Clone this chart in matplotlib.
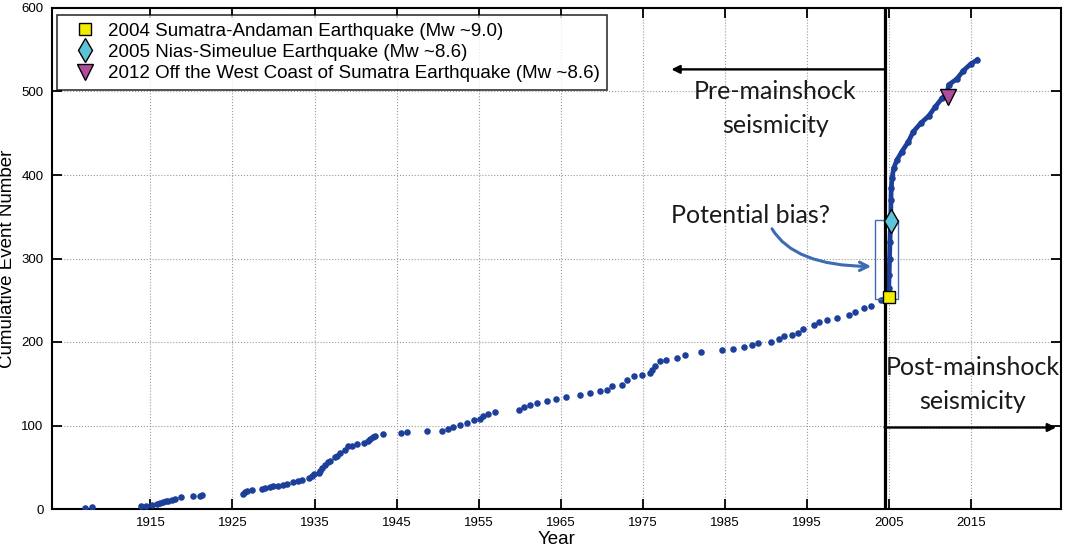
import matplotlib
matplotlib.use("Agg")
import matplotlib.pyplot as plt
from matplotlib.patches import FancyArrowPatch, Rectangle

# ---- data ----
pre_years = [1907.0, 1907.9, 1913.8, 1914.4, 1915.2, 1915.8, 1916.2, 1916.5, 1916.9, 1917.2,
             1917.6, 1918.0, 1918.7, 1920.2, 1921.1, 1921.3, 1926.3, 1926.5, 1926.8, 1927.4,
             1928.6, 1929.0, 1929.6, 1930.0, 1930.6, 1931.2, 1931.6, 1932.4, 1933.0, 1933.5,
             1934.3, 1934.7, 1934.9, 1935.5, 1935.7, 1935.9, 1936.3, 1936.6, 1936.9, 1937.5,
             1937.8, 1938.1, 1938.7, 1939.1, 1939.6, 1940.2, 1941.0, 1941.5, 1941.8, 1942.1,
             1942.4, 1943.4, 1945.5, 1946.3, 1948.7, 1950.6, 1951.3, 1951.9, 1952.7, 1953.6,
             1954.4, 1955.2, 1955.6, 1956.2, 1957.0, 1959.9, 1960.5, 1961.3, 1962.1, 1963.3,
             1964.4, 1965.6, 1967.4, 1968.6, 1969.8, 1970.7, 1971.3, 1972.5, 1973.1, 1973.9,
             1974.9, 1975.9, 1976.2, 1976.5, 1977.1, 1977.9, 1979.2, 1980.2, 1982.1, 1984.7,
             1986.0, 1987.3, 1988.3, 1989.1, 1990.6, 1991.6, 1992.2, 1993.2, 1994.0, 1994.6,
             1995.9, 1996.5, 1997.5, 1998.7, 2000.1, 2000.9, 2002.0, 2002.8, 2004.0, 2004.6]
pre_counts = [1, 2, 3, 4, 5, 6, 7, 8, 9, 10,
              11, 12, 14, 15, 16, 17, 18, 20, 21, 23,
              24, 25, 26, 27, 28, 29, 30, 32, 34, 35,
              37, 40, 42, 43, 46, 49, 53, 56, 58, 62,
              64, 67, 71, 75, 76, 78, 79, 81, 84, 86,
              88, 90, 91, 92, 93, 94, 96, 98, 101, 103,
              106, 108, 111, 114, 116, 119, 122, 124, 127, 129,
              132, 134, 137, 139, 141, 143, 147, 149, 155, 159,
              160, 163, 167, 171, 177, 179, 181, 185, 188, 191,
              192, 194, 197, 199, 200, 204, 207, 208, 211, 216,
              220, 224, 226, 229, 232, 236, 241, 243, 250, 252]

post_years = [2004.98, 2005.0, 2005.05, 2005.1, 2005.15, 2005.24, 2005.27, 2005.3, 2005.4,
              2005.6, 2006.0, 2006.6, 2007.4, 2008.0, 2008.9, 2009.9, 2010.7, 2011.5,
              2012.1, 2012.3, 2013.3, 2014.1, 2015.0, 2015.8]
post_counts = [254, 265, 280, 300, 320, 345, 370, 384, 396,
               408, 418, 428, 440, 452, 462, 471, 482, 492,
               496, 508, 515, 525, 533, 538]

event_labels = ["2004 Sumatra-Andaman Earthquake (Mw ~9.0)",
                "2005 Nias-Simeulue Earthquake (Mw ~8.6)",
                "2012 Off the West Coast of Sumatra Earthquake (Mw ~8.6)"]
event_years = [2004.98, 2005.24, 2012.28]
event_counts = [254, 345, 494]

x_ticks = [1915, 1925, 1935, 1945, 1955, 1965, 1975, 1985, 1995, 2005, 2015]
y_ticks = [0, 100, 200, 300, 400, 500, 600]

mainshock_year = 2004.5

# ---- figure ----
plt.rcParams['font.family'] = ['Liberation Sans', 'DejaVu Sans']
fig = plt.figure(figsize=(10.65, 5.51), dpi=100)
ax = fig.add_axes([52 / 1065, 1 - 509 / 551, (1061 - 52) / 1065, (509 - 8) / 551])

dot_color = '#1c3f9a'
ax.plot(pre_years, pre_counts, 'o', color=dot_color, markersize=3.7, zorder=3)
ax.plot(post_years, post_counts, '-o', color=dot_color, markersize=3.7, linewidth=3.4,
        solid_joinstyle='round', zorder=3)

# mainshock divider & arrows
ax.axvline(mainshock_year, color='black', linewidth=2.3, zorder=4)
ax.annotate('', xy=(1978.5, 526.5), xytext=(mainshock_year, 526.5),
            arrowprops=dict(arrowstyle='-|>', color='black', lw=1.7,
                            mutation_scale=12, shrinkA=0, shrinkB=0), zorder=4)
ax.annotate('', xy=(2025.4, 97.6), xytext=(mainshock_year, 97.6),
            arrowprops=dict(arrowstyle='-|>', color='black', lw=1.7,
                            mutation_scale=12, shrinkA=0, shrinkB=0), zorder=4)

# potential bias box and curved arrow
bias_color = '#3d6bb4'
ax.add_patch(Rectangle((2003.3, 252), 2.8, 94, fill=False, edgecolor=bias_color,
                       linewidth=1.0, zorder=5))
arr = FancyArrowPatch((1990.6, 338.5), (2003.2, 290.5),
                      connectionstyle='angle3,angleA=-62,angleB=0', arrowstyle='->',
                      mutation_scale=15, color=bias_color, lw=2.2, zorder=5)
ax.add_patch(arr)

# event markers
h1, = ax.plot(event_years[0], event_counts[0], 's', markersize=8.5,
              markerfacecolor='#f2ec00', markeredgecolor='black', markeredgewidth=1.0,
              linestyle='none', zorder=6, label=event_labels[0])
h2, = ax.plot(event_years[1], event_counts[1], 'd', markersize=12,
              markerfacecolor='#5cc4d6', markeredgecolor='black', markeredgewidth=1.0,
              linestyle='none', zorder=6, label=event_labels[1])
h3, = ax.plot(event_years[2], event_counts[2], 'v', markersize=11,
              markerfacecolor='#b04c9e', markeredgecolor='black', markeredgewidth=1.0,
              linestyle='none', zorder=6, label=event_labels[2])

# annotation texts
tf = ['Lato', 'DejaVu Sans']
ax.text(1991.2, 480, 'Pre-mainshock\nseismicity', ha='center', va='center',
        fontsize=18, family=tf, color='#1a1a1a', linespacing=1.6, zorder=5)
ax.text(1988.1, 352, 'Potential bias?', ha='center', va='center',
        fontsize=18, family=tf, color='#1a1a1a', zorder=5)
ax.text(2015.2, 149, 'Post-mainshock\nseismicity', ha='center', va='center',
        fontsize=18, family=tf, color='#1a1a1a', linespacing=1.6, zorder=5)

# axes styling
ax.set_xlim(1903, 2026)
ax.set_ylim(0, 600)
ax.set_xticks(x_ticks)
ax.set_yticks(y_ticks)
ax.tick_params(direction='in', length=7, width=1.3, top=True, right=True,
               labelsize=9.5, pad=6)
for s in ax.spines.values():
    s.set_linewidth(1.5)
ax.grid(True, color='#9a9a9a', linestyle=':', linewidth=0.8)
ax.set_axisbelow(True)
ax.set_xlabel('Year', fontsize=13.5, labelpad=1)
ax.set_ylabel('Cumulative Event Number', fontsize=13.5, labelpad=4)

leg = ax.legend(handles=[h1, h2, h3], loc='upper left', bbox_to_anchor=(0.005, 0.986),
                borderaxespad=0, fontsize=13.5, frameon=True, fancybox=False,
                handletextpad=0.1, labelspacing=0.22, borderpad=0.4, handlelength=2.2)
leg.get_frame().set_edgecolor('black')
leg.get_frame().set_linewidth(1.2)
leg.set_zorder(10)

fig.savefig('out.png', dpi=100)
